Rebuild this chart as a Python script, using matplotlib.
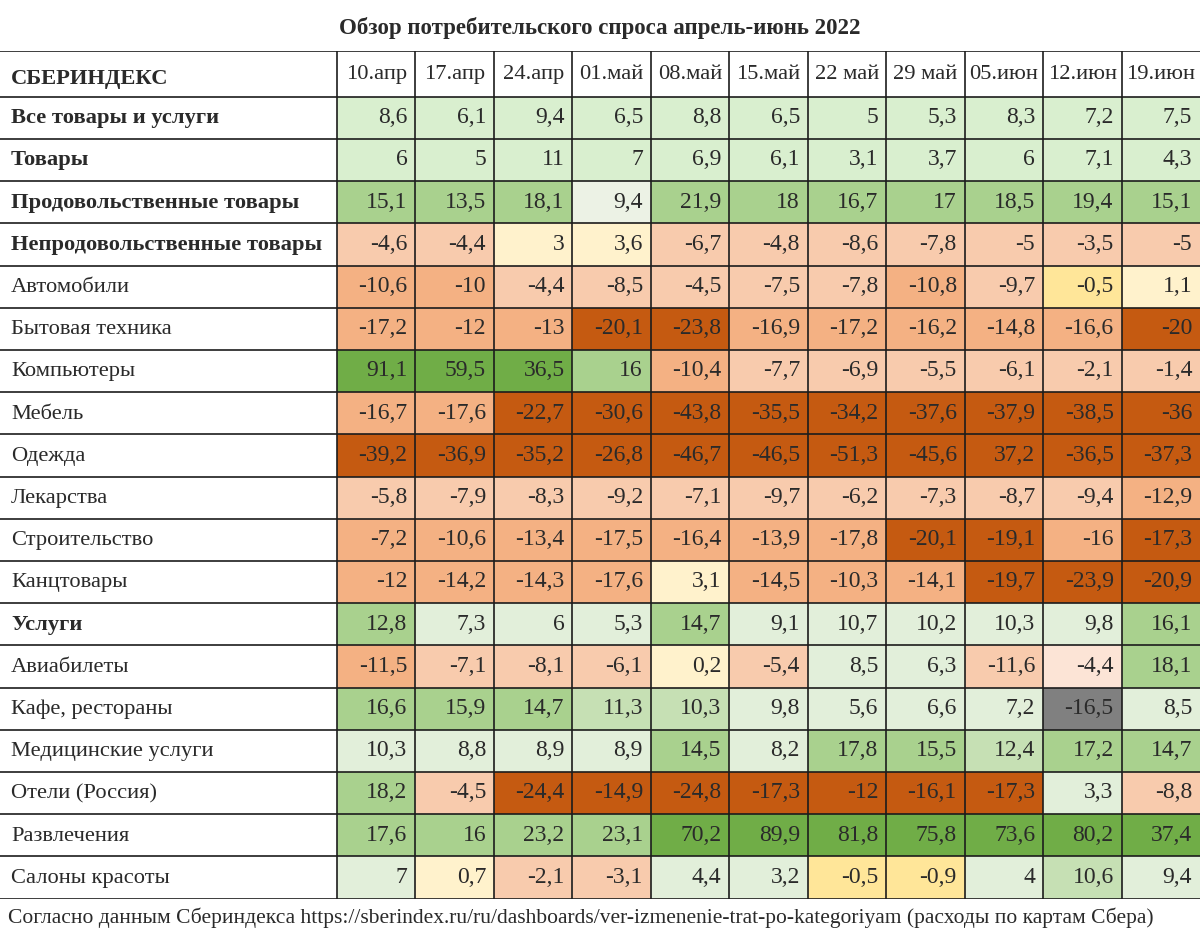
import matplotlib
matplotlib.use("Agg")
import matplotlib.pyplot as plt
from matplotlib.patches import Rectangle

# ---------------- data ----------------
title = "Обзор потребительского спроса апрель-июнь 2022"
corner = "СБЕРИНДЕКС"
footer = ("Согласно данным Сбериндекса https://sberindex.ru/ru/dashboards/"
          "ver-izmenenie-trat-po-kategoriyam (расходы по картам Сбера)")
dates = ["10.апр", "17.апр", "24.апр", "01.май", "08.май", "15.май",
         "22 май", "29 май", "05.июн", "12.июн", "19.июн"]
categories = ["Все товары и услуги", "Товары", "Продовольственные товары",
              "Непродовольственные товары", "Автомобили", "Бытовая техника",
              "Компьютеры", "Мебель", "Одежда", "Лекарства", "Строительство",
              "Канцтовары", "Услуги", "Авиабилеты", "Кафе, рестораны",
              "Медицинские услуги", "Отели (Россия)", "Развлечения",
              "Салоны красоты"]
bold_categories = ["Все товары и услуги", "Товары", "Продовольственные товары",
                   "Непродовольственные товары", "Услуги"]

all_goods = [8.6, 6.1, 9.4, 6.5, 8.8, 6.5, 5, 5.3, 8.3, 7.2, 7.5]
goods = [6, 5, 11, 7, 6.9, 6.1, 3.1, 3.7, 6, 7.1, 4.3]
food = [15.1, 13.5, 18.1, 9.4, 21.9, 18, 16.7, 17, 18.5, 19.4, 15.1]
nonfood = [-4.6, -4.4, 3, 3.6, -6.7, -4.8, -8.6, -7.8, -5, -3.5, -5]
cars = [-10.6, -10, -4.4, -8.5, -4.5, -7.5, -7.8, -10.8, -9.7, -0.5, 1.1]
appliances = [-17.2, -12, -13, -20.1, -23.8, -16.9, -17.2, -16.2, -14.8, -16.6, -20]
computers = [91.1, 59.5, 36.5, 16, -10.4, -7.7, -6.9, -5.5, -6.1, -2.1, -1.4]
furniture = [-16.7, -17.6, -22.7, -30.6, -43.8, -35.5, -34.2, -37.6, -37.9, -38.5, -36]
clothes = [-39.2, -36.9, -35.2, -26.8, -46.7, -46.5, -51.3, -45.6, 37.2, -36.5, -37.3]
medicines = [-5.8, -7.9, -8.3, -9.2, -7.1, -9.7, -6.2, -7.3, -8.7, -9.4, -12.9]
construction = [-7.2, -10.6, -13.4, -17.5, -16.4, -13.9, -17.8, -20.1, -19.1, -16, -17.3]
stationery = [-12, -14.2, -14.3, -17.6, 3.1, -14.5, -10.3, -14.1, -19.7, -23.9, -20.9]
services = [12.8, 7.3, 6, 5.3, 14.7, 9.1, 10.7, 10.2, 10.3, 9.8, 16.1]
air_tickets = [-11.5, -7.1, -8.1, -6.1, 0.2, -5.4, 8.5, 6.3, -11.6, -4.4, 18.1]
cafes = [16.6, 15.9, 14.7, 11.3, 10.3, 9.8, 5.6, 6.6, 7.2, -16.5, 8.5]
medical = [10.3, 8.8, 8.9, 8.9, 14.5, 8.2, 17.8, 15.5, 12.4, 17.2, 14.7]
hotels = [18.2, -4.5, -24.4, -14.9, -24.8, -17.3, -12, -16.1, -17.3, 3.3, -8.8]
entertainment = [17.6, 16, 23.2, 23.1, 70.2, 89.9, 81.8, 75.8, 73.6, 80.2, 37.4]
beauty = [7, 0.7, -2.1, -3.1, 4.4, 3.2, -0.5, -0.9, 4, 10.6, 9.4]

values = [all_goods, goods, food, nonfood, cars, appliances, computers,
          furniture, clothes, medicines, construction, stationery, services,
          air_tickets, cafes, medical, hotels, entertainment, beauty]

# ---------------- style (cell fill classes, as in the source sheet) ----------------
palette = {
    "L": "#d9efcf", "W": "#ecf2e5", "G0": "#e2efda", "G1": "#c6e0b4",
    "G2": "#a9d18e", "G3": "#70ad47", "O1": "#f8cbad", "O2": "#f4b183",
    "O3": "#c55a11", "Y0": "#fff2cc", "Y1": "#ffe699", "P": "#fce4d6",
    "GR": "#808080",
}
fill_classes = [
    "L L L L L L L L L L L",
    "L L L L L L L L L L L",
    "G2 G2 G2 W G2 G2 G2 G2 G2 G2 G2",
    "O1 O1 Y0 Y0 O1 O1 O1 O1 O1 O1 O1",
    "O2 O2 O1 O1 O1 O1 O1 O2 O1 Y1 Y0",
    "O2 O2 O2 O3 O3 O2 O2 O2 O2 O2 O3",
    "G3 G3 G3 G2 O2 O1 O1 O1 O1 O1 O1",
    "O2 O2 O3 O3 O3 O3 O3 O3 O3 O3 O3",
    "O3 O3 O3 O3 O3 O3 O3 O3 O3 O3 O3",
    "O1 O1 O1 O1 O1 O1 O1 O1 O1 O1 O2",
    "O2 O2 O2 O2 O2 O2 O2 O3 O3 O2 O3",
    "O2 O2 O2 O2 Y0 O2 O2 O2 O3 O3 O3",
    "G2 G0 G0 G0 G2 G0 G0 G0 G0 G0 G2",
    "O2 O1 O1 O1 Y0 O1 G0 G0 O1 P G2",
    "G2 G2 G2 G1 G1 G0 G0 G0 G0 GR G0",
    "G0 G0 G0 G0 G2 G0 G2 G2 G1 G2 G2",
    "G2 O1 O3 O3 O3 O3 O3 O3 O3 G0 O1",
    "G2 G2 G2 G2 G3 G3 G3 G3 G3 G3 G3",
    "G0 Y0 O1 O1 G0 G0 Y1 Y1 G0 G1 G0",
]

FONT = ["Liberation Serif", "DejaVu Serif"]
TXT = "#2a2a2a"
LINE = "#1c1c1c"
FS_NUM = 17
FS_LAB = 16.2
FS_HDR = 16.2


def fmt(v):
    if float(v).is_integer():
        return str(int(v))
    return f"{v:.1f}".replace(".", ",")


W, H = 1200, 941
fig = plt.figure(figsize=(W / 100, H / 100), dpi=100)
fig.patch.set_facecolor("white")

top_px, hdr_bot_px, bot_px, lab_px = 51, 96.7, 898.5, 337
ncol, nrow = len(dates), len(categories)
row_px = (bot_px - hdr_bot_px) / nrow
col_px = (W - lab_px) / ncol
hdr_h = (hdr_bot_px - top_px) / row_px
lab_w = lab_px / col_px

ax = fig.add_axes([0, 1 - bot_px / H, 1, (bot_px - top_px) / H])
ax.set_xlim(-lab_w, ncol)
ax.set_ylim(nrow, -hdr_h)
ax.axis("off")

# cells
for i, row in enumerate(values):
    classes = fill_classes[i].split()
    for j, v in enumerate(row):
        ax.add_patch(Rectangle((j, i), 1, 1, facecolor=palette[classes[j]],
                               edgecolor="none", zorder=1))
        ax.text(j + 1 - 0.1, i + 0.63, fmt(v), ha="right", va="baseline",
                fontsize=FS_NUM, family=FONT, color=TXT, zorder=3)

# row labels
for i, name in enumerate(categories):
    ax.text(-lab_w + 0.14, i + 0.63, name, ha="left", va="baseline",
            fontsize=FS_LAB, family=FONT, color=TXT,
            fontweight="bold" if name in bold_categories else "normal", zorder=3)

# header
for j, d in enumerate(dates):
    ax.text(j + 0.5, -hdr_h + 0.655, d, ha="center", va="baseline",
            fontsize=FS_HDR, family=FONT, color=TXT, zorder=3)
ax.text(-lab_w + 0.14, -hdr_h + 0.79, corner, ha="left", va="baseline",
        fontsize=FS_LAB, family=FONT, color=TXT, fontweight="bold", zorder=3)

# grid lines
lw = 1.2
for y in [-hdr_h] + list(range(0, nrow + 1)):
    ax.plot([-lab_w, ncol], [y, y], color=LINE, lw=lw, zorder=4,
            solid_capstyle="butt")
for x in range(0, ncol):
    ax.plot([x, x], [-hdr_h, nrow], color=LINE, lw=lw, zorder=4,
            solid_capstyle="butt")

fig.text(0.5, 1 - 34 / H, title, ha="center", va="baseline", fontsize=16.5,
         family=FONT, fontweight="bold", color=TXT)
fig.text(8 / W, 1 - 923 / H, footer, ha="left", va="baseline", fontsize=15.45,
         family=FONT, color=TXT)

fig.savefig("out.png", dpi=100, facecolor="white")
